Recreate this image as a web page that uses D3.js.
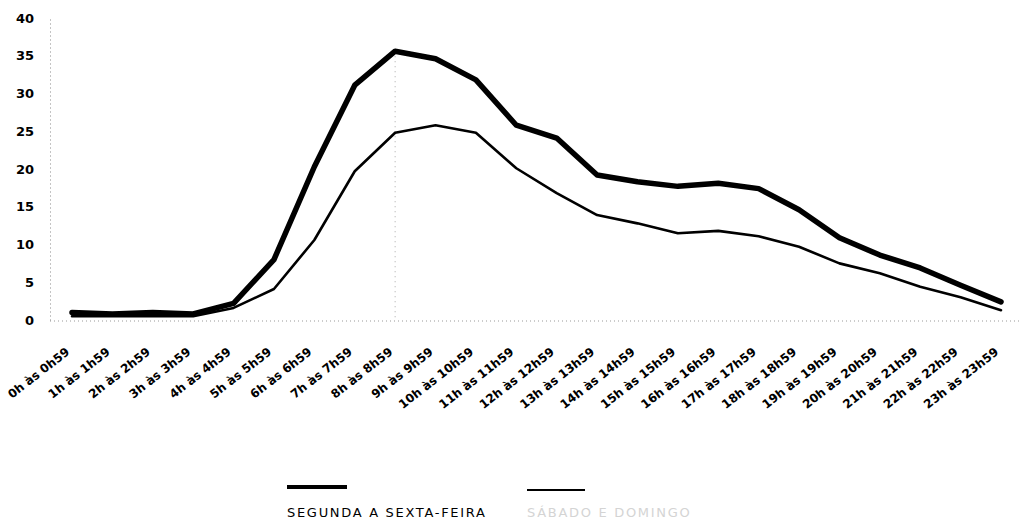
<!DOCTYPE html>
<html>
<head>
<meta charset="utf-8">
<script src="https://cdn.jsdelivr.net/npm/d3@7"></script>
<style>
  body { margin: 0; background: #fff; }
  svg { display: block; }
  .tick text { font-family: "DejaVu Sans", sans-serif; font-weight: 700; fill: #000; }
  .legend text { font-family: "DejaVu Sans", sans-serif; font-size: 13px; letter-spacing: 1.7px; }
</style>
</head>
<body>
<div id="svg-container"></div>
<script>
// data
const hours = [
  "0h às 0h59", "1h às 1h59", "2h às 2h59", "3h às 3h59", "4h às 4h59", "5h às 5h59",
  "6h às 6h59", "7h às 7h59", "8h às 8h59", "9h às 9h59", "10h às 10h59", "11h às 11h59",
  "12h às 12h59", "13h às 13h59", "14h às 14h59", "15h às 15h59", "16h às 16h59", "17h às 17h59",
  "18h às 18h59", "19h às 19h59", "20h às 20h59", "21h às 21h59", "22h às 22h59", "23h às 23h59"
];
const weekday = [1.0, 0.8, 1.0, 0.8, 2.2, 8.0, 20.3, 31.1, 35.6, 34.6, 31.8, 25.8,
  24.1, 19.2, 18.3, 17.7, 18.1, 17.4, 14.6, 10.9, 8.6, 6.9, 4.6, 2.4];
const weekend = [0.5, 0.5, 0.5, 0.5, 1.6, 4.1, 10.6, 19.7, 24.8, 25.8, 24.8, 20.1,
  16.8, 13.9, 12.8, 11.5, 11.8, 11.1, 9.7, 7.5, 6.2, 4.4, 3.0, 1.3];
const yTicks = [0, 5, 10, 15, 20, 25, 30, 35, 40];
const seriesNames = ["SEGUNDA A SEXTA-FEIRA", "SÁBADO E DOMINGO"];

// init
const width = 1021;
const height = 529;
const margin = { top: 18, right: 20, bottom: 209, left: 50 };

const svg = d3.select("#svg-container").append("svg")
  .attr("width", width).attr("height", height);

// scale
const xScale = d3.scalePoint().domain(hours).range([72, 1001]);
const yScale = d3.scaleLinear().domain([0, 40]).range([height - margin.bottom, margin.top]);

// y axis (dotted line + bold numbers)
svg.append("g")
  .attr("class", "y-axis")
  .attr("transform", `translate(${margin.left},0)`)
  .call(d3.axisLeft(yScale).tickValues(yTicks).tickSize(0).tickPadding(16))
  .call((g) => g.select(".domain")
    .attr("stroke", "#888").attr("stroke-dasharray", "1,3"))
  .call((g) => g.selectAll(".tick text").style("font-size", "13px"));

// dotted baseline
svg.append("line")
  .attr("x1", margin.left).attr("x2", width - 2)
  .attr("y1", yScale(0) + 1).attr("y2", yScale(0) + 1)
  .attr("stroke", "#999").attr("stroke-dasharray", "1,3");

// faint dotted guide at the morning peak
const peak = hours[d3.maxIndex(weekday)];
svg.append("line")
  .attr("x1", xScale(peak)).attr("x2", xScale(peak))
  .attr("y1", yScale(d3.max(weekday))).attr("y2", yScale(0))
  .attr("stroke", "#aaa").attr("stroke-dasharray", "1,4");

// x axis labels, rotated
svg.append("g")
  .attr("class", "x-axis")
  .attr("transform", `translate(0,${yScale(0)})`)
  .call(d3.axisBottom(xScale).tickSize(0))
  .call((g) => g.select(".domain").remove())
  .call((g) => g.selectAll(".tick text")
    .style("font-size", "12px")
    .attr("text-anchor", "end")
    .attr("dy", 0)
    .attr("transform", "translate(-4,31) rotate(-38)"));

// lines
const line = (vals) => d3.line()
  .x((d, i) => xScale(hours[i]))
  .y((d) => yScale(d))(vals);

svg.append("path")
  .attr("d", line(weekend))
  .attr("fill", "none").attr("stroke", "#000")
  .attr("stroke-width", 2.6).attr("stroke-linecap", "round").attr("stroke-linejoin", "round");

svg.append("path")
  .attr("d", line(weekday))
  .attr("fill", "none").attr("stroke", "#000")
  .attr("stroke-width", 5.5).attr("stroke-linecap", "round").attr("stroke-linejoin", "round");

// legend
const legend = svg.append("g").attr("class", "legend");
legend.append("line")
  .attr("x1", 287).attr("x2", 347).attr("y1", 487).attr("y2", 487)
  .attr("stroke", "#000").attr("stroke-width", 4);
legend.append("text")
  .attr("x", 287).attr("y", 517).attr("fill", "#000").text(seriesNames[0]);

legend.append("line")
  .attr("x1", 527).attr("x2", 585).attr("y1", 490).attr("y2", 490)
  .attr("stroke", "#000").attr("stroke-width", 2);
legend.append("text")
  .attr("x", 527).attr("y", 517).attr("fill", "#d4d4d4").text(seriesNames[1]);
</script>
</body>
</html>
